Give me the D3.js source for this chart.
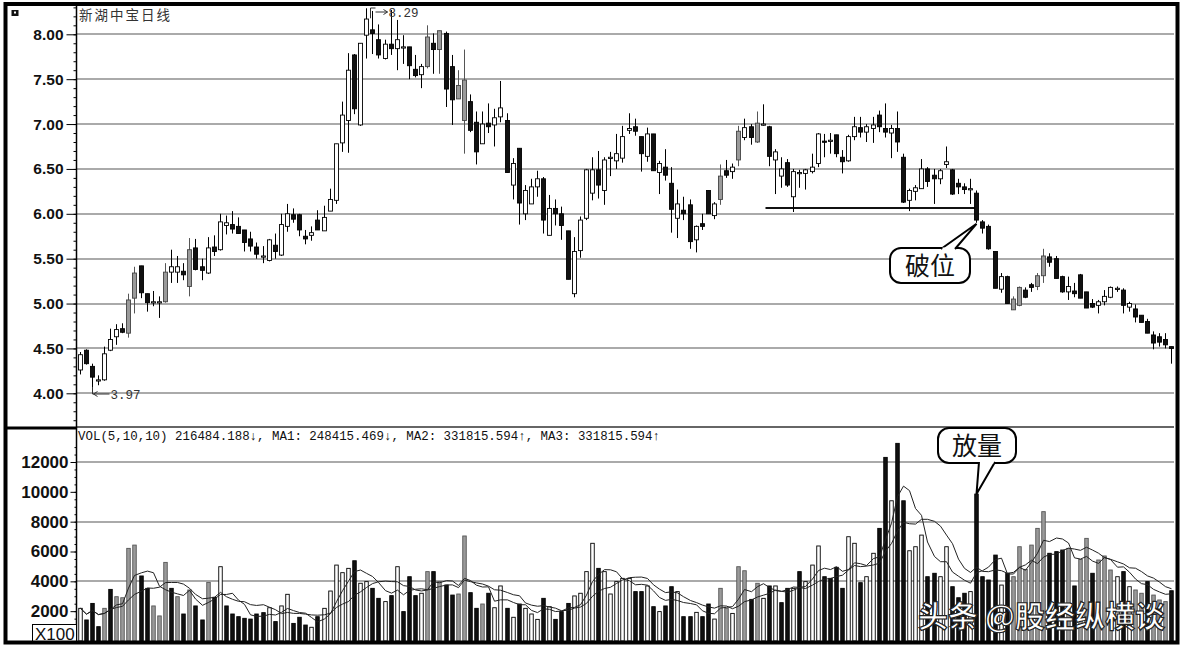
<!DOCTYPE html>
<html>
<head>
<meta charset="utf-8">
<script src="https://cdn.jsdelivr.net/npm/d3@7"></script>
<style>
body { margin: 0; background: #fff; }
svg { display: block; font-family: "Liberation Sans", Arial, sans-serif; }
</style>
</head>
<body>
<svg id="chart" width="1186" height="649"></svg>
<script>
// daily candles
var open = [4.26,4.48,4.30,4.14,4.15,4.48,4.63,4.72,4.67,5.06, 5.42,5.11,5.02,5.01,5.02,5.35,5.35,5.36,5.19,5.62,
  5.41,5.34,5.63,5.60,5.87,5.88,5.86,5.82,5.72,5.63, 5.52,5.48,5.65,5.54,5.86,5.99,5.99,5.75,5.76,5.93,
  5.81,6.03,6.15,6.79,7.04,7.77,6.99,7.99,8.05,7.94, 7.73,7.89,7.84,7.86,7.86,7.61,7.55,7.64,7.90,7.83,
  8.01,7.64,7.28,7.04,7.25,7.02,6.78,7.01,6.99,7.08, 7.04,6.32,6.73,6.00,6.11,6.30,6.39,5.76,6.06,6.00,
  5.81,5.11,5.59,5.95,6.23,6.49,6.26,6.62,6.59,6.62, 6.93,6.97,6.86,6.64,6.89,6.46,6.52,6.34,5.95,6.04,
  6.10,5.71,5.89,6.26,5.98,6.16,6.48,6.47,6.60,6.85, 6.97,6.80,7.00,6.97,6.60,6.42,6.57,6.19,6.45,6.45,
  6.47,6.56,6.81,6.82,6.88,6.63,6.59,6.86,6.96,6.91, 6.95,7.10,6.95,6.90,6.95,6.63,6.15,6.25,6.28,6.50,
  6.43,6.39,6.55,6.49,6.34,6.30,6.28,6.23,5.91,5.86, 5.58,5.16,5.30,4.93,4.98,5.15,5.21,5.19,5.31,5.52,
  5.50,5.30,5.13,5.14,5.32,5.13,5.00,4.98,5.02,5.07, 5.17,5.15,4.96,4.94,4.87,4.80,4.65,4.63,4.60,4.52];
var high = [4.46,4.49,4.33,4.20,4.52,4.72,4.77,4.78,5.11,5.41, 5.42,5.11,5.14,5.08,5.45,5.60,5.53,5.45,5.73,5.72,
  5.50,5.74,5.76,6.00,5.98,6.03,5.96,5.82,5.80,5.68, 5.64,5.72,5.78,6.00,6.11,6.06,6.00,5.82,5.86,6.04,
  6.09,6.28,6.78,7.25,7.79,7.78,7.90,8.29,8.26,8.11, 7.94,8.27,8.16,7.99,7.86,7.77,7.67,8.10,8.01,8.04,
  8.03,7.77,7.60,7.83,7.33,7.14,7.14,7.23,7.17,7.48, 7.12,6.62,6.73,6.32,6.39,6.48,6.41,6.21,6.16,6.08,
  5.81,5.74,5.97,6.50,6.63,6.70,6.63,6.69,6.89,6.98, 7.12,7.06,6.86,6.96,6.89,6.59,6.72,6.52,6.27,6.19,
  6.16,5.87,6.00,6.26,6.13,6.55,6.60,6.56,6.98,7.06, 7.00,7.14,7.22,6.98,6.72,6.63,6.61,6.50,6.49,6.50,
  6.67,6.90,6.89,6.90,6.88,6.71,6.88,7.08,7.08,7.00, 7.08,7.15,7.23,6.99,7.14,6.67,6.28,6.32,6.61,6.52,
  6.50,6.50,6.75,6.50,6.39,6.34,6.39,6.26,5.93,5.88, 5.58,5.34,5.31,5.08,5.19,5.18,5.23,5.34,5.61,5.56,
  5.53,5.31,5.30,5.23,5.33,5.13,5.05,5.04,5.15,5.19, 5.19,5.17,5.02,4.99,4.87,4.83,4.69,4.67,4.67,4.52];
var low = [4.21,4.32,4.07,4.09,4.14,4.47,4.54,4.67,4.62,4.89, 5.06,4.91,4.97,4.84,5.01,5.23,5.23,5.26,5.08,5.37,
  5.26,5.33,5.53,5.59,5.77,5.78,5.78,5.58,5.58,5.50, 5.45,5.47,5.50,5.53,5.80,5.90,5.75,5.66,5.70,5.82,
  5.81,6.03,6.11,6.69,6.68,7.11,6.98,7.73,7.78,7.73, 7.72,7.77,7.60,7.67,7.50,7.52,7.40,7.62,7.56,7.56,
  7.19,6.99,7.28,6.67,6.91,6.55,6.78,6.90,6.75,7.02, 6.46,6.16,5.88,5.93,6.11,6.19,5.78,5.76,5.87,5.71,
  5.27,5.07,5.51,5.93,6.15,6.17,6.10,6.42,6.50,6.57, 6.89,6.87,6.47,6.58,6.48,6.22,6.37,5.79,5.73,5.93,
  5.61,5.57,5.82,6.00,5.94,6.10,6.40,6.39,6.53,6.82, 6.77,6.79,6.98,6.53,6.22,6.29,6.30,6.02,6.29,6.27,
  6.45,6.52,6.63,6.67,6.63,6.45,6.58,6.82,6.85,6.80, 6.79,6.91,6.85,6.62,6.69,6.12,6.03,6.15,6.28,6.30,
  6.11,6.33,6.51,6.21,6.22,6.22,6.11,5.90,5.78,5.60, 5.17,5.12,5.00,4.93,4.97,5.06,5.13,5.15,5.23,5.41,
  5.28,5.12,5.04,5.07,5.06,4.95,4.95,4.89,4.98,5.06, 5.13,4.89,4.91,4.79,4.79,4.67,4.49,4.52,4.50,4.33];
var close = [4.43,4.33,4.18,4.15,4.44,4.60,4.71,4.68,5.04,5.34, 5.12,5.01,5.02,5.02,5.35,5.41,5.41,5.32,5.60,5.38,
  5.37,5.62,5.58,5.91,5.90,5.83,5.78,5.68,5.64,5.55, 5.53,5.71,5.58,5.88,6.00,5.94,5.82,5.72,5.79,5.82,
  5.96,6.16,6.78,7.10,7.60,7.17,7.90,8.17,8.01,7.77, 7.89,7.84,7.94,7.86,7.65,7.54,7.64,7.97,7.83,8.04,
  7.39,7.27,7.43,7.49,6.93,6.69,7.00,6.97,7.07,7.18, 6.46,6.56,6.12,6.26,6.30,6.39,5.93,6.06,6.00,5.87,
  5.27,5.58,5.93,6.49,6.49,6.32,6.60,6.63,6.67,6.86, 6.95,6.92,6.67,6.89,6.48,6.56,6.43,6.05,6.11,6.00,
  5.69,5.86,5.86,6.00,6.11,6.42,6.43,6.52,6.92,6.96, 6.85,7.01,7.00,6.64,6.69,6.50,6.32,6.47,6.46,6.49,
  6.52,6.89,6.80,6.82,6.67,6.58,6.86,6.97,6.91,6.97, 6.99,6.97,6.91,6.95,6.80,6.13,6.26,6.29,6.50,6.36,
  6.39,6.48,6.58,6.22,6.30,6.27,6.28,5.93,5.84,5.61, 5.17,5.30,5.00,5.05,5.18,5.07,5.18,5.31,5.53,5.46,
  5.28,5.13,5.19,5.11,5.06,4.95,4.96,5.02,5.08,5.18, 5.17,4.98,5.00,4.85,4.79,4.67,4.56,4.57,4.54,4.50];
// candles that are printed in grey (1-based)
var grayCandles = [9,10,15,19,58,60,63,64,106,109,112,154,155,158,159];

// volume, in units of 100 shares
var volume = [2190,1410,2520,960,2190,3460,2970,2900,6210,6430, 4360,3530,2350,1680,5270,3530,2970,1810,3420,2350,
  1410,3930,2930,4980,2350,1810,1630,1520,1470,1810, 1900,2230,1300,2350,3130,1180,1590,1070,920,1630,
  2190,3350,5090,4580,4870,5380,3870,3980,3530,2860, 2640,3040,4980,1970,4310,3040,3200,4650,4650,3980,
  3750,3080,3150,7040,3240,2190,2480,3200,2230,3690, 2190,1590,2480,2190,1810,1450,2860,2300,1450,1970,
  2520,3020,3200,4650,6550,4870,4650,3150,3980,4200, 4200,3310,3310,3690,2300,1970,2350,3640,3310,1630,
  1630,1920,1630,2480,1470,3530,2190,1850,4980,4710, 2790,3870,2860,3690,3690,2570,3530,3530,4650,3980,
  5090,6370,4310,4200,4940,3530,6990,6550,3910,4310, 5880,7550,12310,9400,13250,9400,6050,6320,7100,4310,
  4540,4310,6320,3640,2900,3200,3310,9850,4310,4090, 5760,3750,4540,4310,6320,4800,6430,7550,8670,5880,
  5990,6100,6210,3690,5470,6880,4540,5430,5700,4760, 4310,4650,3640,3420,3200,3980,3080,2750,2640,3370];
// bar shade: w = hollow, k = black, g = grey
var volShade = ("wkkkgkgggg" + "kkgggkgkgk" + "kgkwkkkkkk" + "kwkwwkkkwk" + "wwwwwkwwkk" + "wkwkkkwgkg" +
  "kkggkkgkww" + "kwkwwwkwkk" + "kwwwwkwwww" + "wkkwkwkkwk" + "kwkkwggwgg" + "kgwkwkkwkw" +
  "wwkkkkwwkw" + "wkkwkkwwwk" + "kwwkkkwkkk" + "kwkggggggk" + "kkgkggkggg" + "wkwggkgggk").split("");

var priceTicks = [4, 4.5, 5, 5.5, 6, 6.5, 7, 7.5, 8];
var volTicks = [2000, 4000, 6000, 8000, 10000, 12000];
var volGrid = [4000, 8000, 12000];
var maPeriods = [5, 10];

var title = "新湖中宝日线";
var legend = "VOL(5,10,10) 216484.188↓, MA1: 248415.469↓, MA2: 331815.594↑, MA3: 331815.594↑";
var highLabel = "8.29", lowLabel = "3.97";
var supportPrice = 6.06, supportFrom = 113, breakDay = 148;

var n = close.length;
var svg = d3.select("#chart");

var x = d3.scaleBand().domain(d3.range(n)).range([76.5, 1174.5]);
function cx(i) { return Math.round(x(i) + x.bandwidth() / 2) + 0.5; }

var y = d3.scaleLinear().domain([4, 8]).range([393.3, 34.3]);
var yv = d3.scaleLinear().domain([0, 12000]).range([641, 462]);

// grid
svg.append("g").selectAll("line")
    .data(priceTicks)
  .enter().append("line")
    .attr("x1", 77).attr("x2", 1174)
    .attr("y1", function(d) { return Math.round(y(d)); })
    .attr("y2", function(d) { return Math.round(y(d)); })
    .attr("stroke", "#8e8e8e")
    .attr("stroke-width", 1.6);

svg.append("g").selectAll("line")
    .data(volGrid)
  .enter().append("line")
    .attr("x1", 77).attr("x2", 1174)
    .attr("y1", function(d) { return Math.round(yv(d)); })
    .attr("y2", function(d) { return Math.round(yv(d)); })
    .attr("stroke", "#8e8e8e")
    .attr("stroke-width", 1.6);

// panel separator
svg.append("line").attr("x1", 77).attr("x2", 1174).attr("y1", 427).attr("y2", 427)
    .attr("stroke", "#333").attr("stroke-width", 1.3);
svg.append("line").attr("x1", 6).attr("x2", 77).attr("y1", 428).attr("y2", 428)
    .attr("stroke", "#000").attr("stroke-width", 3);

// axes
function styleAxis(g, size) {
  g.select(".domain").remove();
  g.selectAll("line").attr("stroke", "#000");
  g.selectAll("text")
      .attr("fill", "#111")
      .attr("font-size", size)
      .attr("font-weight", "bold")
      .attr("font-family", "'Liberation Sans', Arial, sans-serif");
}

svg.append("g")
    .attr("transform", "translate(76.5,0)")
    .call(d3.axisLeft(y).tickValues(d3.range(37, 84).map(function(d) { return d / 10; }))
      .tickSize(3).tickFormat(""))
    .call(styleAxis, 0);

svg.append("g")
    .attr("transform", "translate(76.5,0)")
    .call(d3.axisLeft(y).tickValues(priceTicks).tickFormat(d3.format(".2f")).tickSize(10).tickPadding(3))
    .call(styleAxis, 15.5);

svg.append("g")
    .attr("transform", "translate(76.5,0)")
    .call(d3.axisLeft(yv).tickValues(d3.range(500, 13500, 500)).tickSize(2).tickFormat(""))
    .call(styleAxis, 0);

svg.append("g")
    .attr("transform", "translate(76.5,0)")
    .call(d3.axisLeft(yv).tickValues(volTicks).tickFormat(d3.format("d")).tickSize(6).tickPadding(2))
    .call(styleAxis, 17);

svg.append("line").attr("x1", 76.5).attr("x2", 76.5).attr("y1", 6).attr("y2", 641)
    .attr("stroke", "#000").attr("stroke-width", 1.5);

// support line and its break
svg.append("line")
    .attr("x1", cx(supportFrom - 1) + 2).attr("x2", cx(breakDay - 1))
    .attr("y1", Math.round(y(supportPrice))).attr("y2", Math.round(y(supportPrice)))
    .attr("stroke", "#111").attr("stroke-width", 2.2);

// candles
var candles = svg.append("g").selectAll("g")
    .data(d3.range(n))
  .enter().append("g");

function shade(i) {
  if (grayCandles.indexOf(i + 1) >= 0) return "g";
  return close[i] >= open[i] ? "w" : "k";
}

candles.append("line")
    .attr("x1", cx).attr("x2", cx)
    .attr("y1", function(i) { return y(high[i]); })
    .attr("y2", function(i) { return y(low[i]); })
    .attr("stroke", function(i) { return shade(i) == "g" ? "#555" : "#000"; })
    .attr("stroke-width", 1);

candles.append("rect")
    .attr("x", function(i) { return cx(i) - 2; })
    .attr("width", 4)
    .attr("y", function(i) { return y(Math.max(open[i], close[i])); })
    .attr("height", function(i) { return Math.max(1.2, Math.abs(y(open[i]) - y(close[i]))); })
    .attr("fill", function(i) { var s = shade(i); return s == "w" ? "#fff" : s == "g" ? "#9a9a9a" : "#111"; })
    .attr("stroke", function(i) { return shade(i) == "g" ? "#444" : "#000"; })
    .attr("stroke-width", 0.9);

// volume bars
svg.append("g").selectAll("rect")
    .data(volume)
  .enter().append("rect")
    .attr("x", function(d, i) { return cx(i) - 1.75; })
    .attr("width", 3.5)
    .attr("y", function(d) { return yv(d); })
    .attr("height", function(d) { return yv(0) - yv(d); })
    .attr("fill", function(d, i) { var s = volShade[i]; return s == "w" ? "#fff" : s == "g" ? "#9a9a9a" : "#111"; })
    .attr("stroke", function(d, i) { return volShade[i] == "g" ? "#555" : "#000"; })
    .attr("stroke-width", 0.9);

// volume moving averages
maPeriods.forEach(function(p) {
  var ma = volume.map(function(d, i) { return d3.mean(volume.slice(Math.max(0, i - p + 1), i + 1)); });
  svg.append("path")
      .datum(ma)
      .attr("fill", "none")
      .attr("stroke", "#222")
      .attr("stroke-width", 1)
      .attr("d", d3.line().x(function(d, i) { return cx(i); }).y(function(d) { return yv(d); }));
});

// titles
svg.append("rect").attr("x", 11.5).attr("y", 10).attr("width", 7).attr("height", 6).attr("fill", "#111");
svg.append("rect").attr("x", 14).attr("y", 11.5).attr("width", 2).attr("height", 2).attr("fill", "#fff");

svg.append("text")
    .attr("x", 79).attr("y", 20)
    .attr("font-family", "'Noto Sans CJK SC', sans-serif")
    .attr("font-size", 13.5)
    .attr("fill", "#333")
    .attr("textLength", 91)
    .text(title);

svg.append("text")
    .attr("x", 78).attr("y", 440)
    .attr("font-family", "'Liberation Mono', 'DejaVu Sans Mono', monospace")
    .attr("font-size", 12.5)
    .attr("fill", "#111")
    .attr("textLength", 582)
    .attr("lengthAdjust", "spacingAndGlyphs")
    .text(legend);

svg.append("rect").attr("x", 32.5).attr("y", 624.5).attr("width", 44).attr("height", 17)
    .attr("fill", "#fff").attr("stroke", "#000").attr("stroke-width", 1);
svg.append("text")
    .attr("x", 35).attr("y", 640)
    .attr("font-size", 17)
    .attr("fill", "#111")
    .text("X100");

// high / low markers
var hi = d3.maxIndex(high), lo = d3.minIndex(low);
svg.append("path")
    .attr("d", "M" + (cx(hi) + 4) + "," + (y(high[hi]) + 10) + "V8H" + (cx(hi) + 9) +
      "M" + (cx(hi) + 9) + ",12H" + (cx(hi) + 21) + "M" + (cx(hi) + 17) + ",9.5L" + (cx(hi) + 21) + ",12L" + (cx(hi) + 17) + ",14.5")
    .attr("fill", "none").attr("stroke", "#333").attr("stroke-width", 1);
svg.append("text")
    .attr("x", cx(hi) + 22).attr("y", 17)
    .attr("font-family", "'Liberation Mono', monospace").attr("font-size", 12.5).attr("fill", "#333")
    .text(highLabel);

svg.append("path")
    .attr("d", "M" + cx(lo) + "," + y(low[lo]) + "V394H" + (cx(lo) + 17) +
      "M" + (cx(lo) + 5) + ",391.5L" + (cx(lo) + 1) + ",394L" + (cx(lo) + 5) + ",396.5")
    .attr("fill", "none").attr("stroke", "#333").attr("stroke-width", 1);
svg.append("text")
    .attr("x", cx(lo) + 18).attr("y", 398.5)
    .attr("font-family", "'Liberation Mono', monospace").attr("font-size", 12.5).attr("fill", "#333")
    .text(lowLabel);

// callouts
function callout(bx, by, bw, bh, tip, base, label) {
  svg.append("rect")
      .attr("x", bx).attr("y", by).attr("width", bw).attr("height", bh).attr("rx", 11)
      .attr("fill", "#fff").attr("stroke", "#000").attr("stroke-width", 2);
  svg.append("path")
      .attr("d", "M" + base[0] + "," + base[2] + "L" + tip[0] + "," + tip[1] + "L" + base[1] + "," + base[2])
      .attr("fill", "#fff").attr("stroke", "#000").attr("stroke-width", 2);
  svg.append("line")
      .attr("x1", base[0] + 1.5).attr("x2", base[1] - 1.5).attr("y1", base[2]).attr("y2", base[2])
      .attr("stroke", "#fff").attr("stroke-width", 3);
  svg.append("text")
      .attr("x", bx + bw / 2).attr("y", by + bh / 2 + 9)
      .attr("text-anchor", "middle")
      .attr("font-family", "'Noto Sans CJK SC', sans-serif")
      .attr("font-size", 25)
      .attr("fill", "#111")
      .text(label);
}

var b = breakDay - 1;
callout(890, 248, 80, 35, [cx(b), y(low[b]) + 1], [941, 955, 249], "破位");
callout(938, 428, 78, 35, [cx(b), yv(volume[b])], [979, 995, 462], "放量");

// watermark
svg.append("text")
    .attr("x", 918).attr("y", 627)
    .attr("font-family", "'Noto Sans CJK SC', sans-serif")
    .attr("font-size", 30)
    .attr("font-weight", "bold")
    .attr("fill", "#fff")
    .attr("stroke", "#222")
    .attr("stroke-width", 1.2)
    .text("头条 @股经纵横谈");

// outer frame
svg.append("rect")
    .attr("x", 5.5).attr("y", 4).attr("width", 1172).attr("height", 638.5)
    .attr("fill", "none").attr("stroke", "#000").attr("stroke-width", 4);
</script>
</body>
</html>
